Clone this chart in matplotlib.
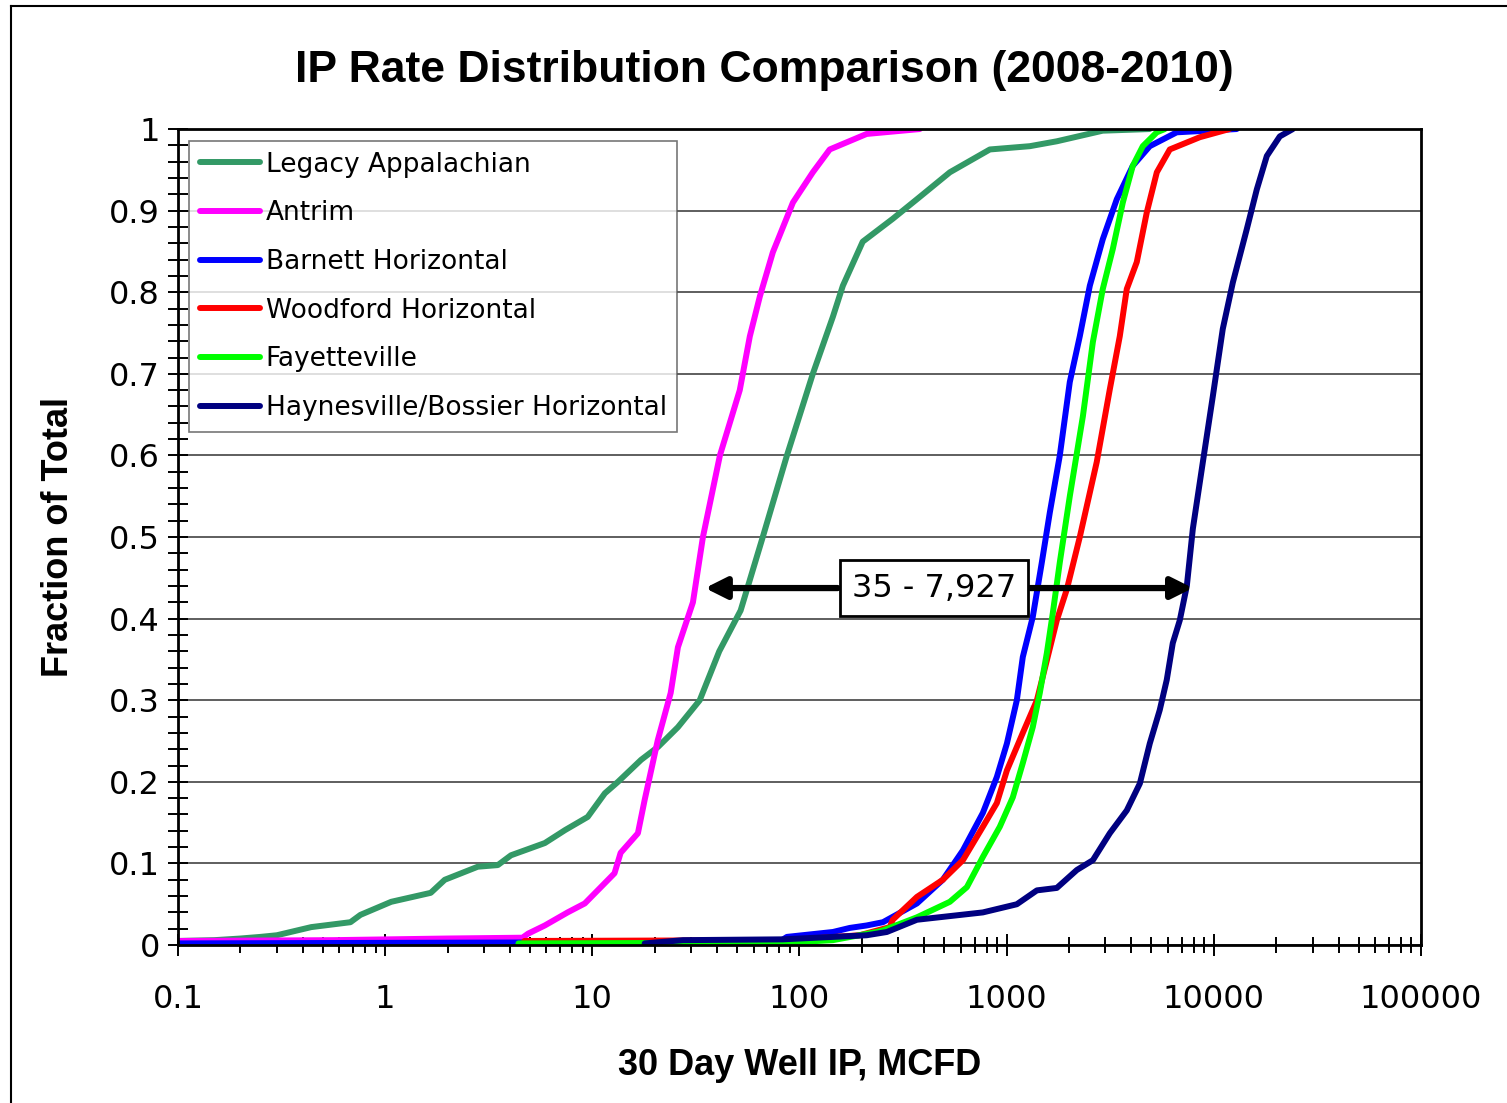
#!/usr/bin/env python
import matplotlib
matplotlib.use('Agg')
import matplotlib.pyplot as plt
from matplotlib.ticker import LogLocator, FixedLocator, MultipleLocator, FuncFormatter
from matplotlib.lines import Line2D

# cumulative distributions (30 day IP in MCFD, fraction of total)
legacy_x = [0.1, 0.15, 0.2, 0.25, 0.3, 0.44, 0.68, 0.76, 1.07, 1.66, 1.94, 2.8, 3.5, 4.05,
            5.9, 7.4, 9.5, 11.5, 13.3, 17.2, 20.8, 25.9, 33, 41, 52, 66.5, 87, 116, 145,
            162, 202, 282, 369, 532, 830, 1294, 1747, 2910, 4900]
legacy_y = [0.005, 0.006, 0.008, 0.01, 0.012, 0.022, 0.028, 0.037, 0.053, 0.064, 0.08, 0.096,
            0.098, 0.11, 0.125, 0.141, 0.157, 0.186, 0.2, 0.227, 0.243, 0.267, 0.3, 0.36,
            0.41, 0.5, 0.6, 0.7, 0.77, 0.808, 0.862, 0.89, 0.914, 0.947, 0.975, 0.979,
            0.985, 0.998, 1.0]

antrim_x = [0.1, 0.56, 1.99, 4.6, 4.9, 5.9, 7.6, 9.2, 11, 12.8, 13.7, 16.6, 17.9, 20.7, 23.9,
            25.9, 30.6, 34.2, 41.3, 51.5, 57.6, 64.4, 74.4, 93, 116, 140, 211, 381]
antrim_y = [0.005, 0.006, 0.008, 0.009, 0.014, 0.024, 0.04, 0.051, 0.071, 0.088, 0.113, 0.137,
            0.178, 0.251, 0.309, 0.365, 0.42, 0.5, 0.6, 0.68, 0.746, 0.795, 0.849, 0.91,
            0.947, 0.975, 0.994, 1.0]

barnett_x = [0.1, 80, 87, 145, 175, 211, 253, 369, 492, 615, 768, 897, 1003, 1120, 1197, 1337,
             1479, 1616, 1806, 2018, 2255, 2521, 2912, 3403, 4065, 4909, 6623, 12900]
barnett_y = [0.002, 0.004, 0.01, 0.016, 0.021, 0.024, 0.028, 0.051, 0.08, 0.116, 0.162, 0.206,
             0.247, 0.3, 0.353, 0.402, 0.469, 0.53, 0.6, 0.69, 0.746, 0.808, 0.865, 0.914,
             0.955, 0.979, 0.996, 1.0]

woodford_x = [4.7, 87, 195, 273, 282, 369, 492, 615, 768, 897, 1003, 1197, 1400, 1564, 1747,
              1953, 2255, 2723, 3148, 3517, 3802, 4249, 4750, 5309, 6133, 8560, 11900]
woodford_y = [0.005, 0.006, 0.012, 0.022, 0.031, 0.059, 0.08, 0.104, 0.145, 0.174, 0.214,
              0.26, 0.3, 0.349, 0.398, 0.436, 0.5, 0.592, 0.681, 0.746, 0.804, 0.837, 0.898,
              0.947, 0.975, 0.99, 1.0]

fayetteville_x = [4.4, 87, 145, 236, 253, 369, 532, 643, 768, 927, 1071, 1197, 1337, 1446,
                  1564, 1671, 1806, 2018, 2334, 2608, 2912, 3255, 3638, 4065, 4543, 5309, 5800]
fayetteville_y = [0.002, 0.003, 0.006, 0.016, 0.018, 0.034, 0.053, 0.071, 0.108, 0.145, 0.181,
                  0.223, 0.267, 0.309, 0.358, 0.407, 0.469, 0.55, 0.648, 0.739, 0.804, 0.853,
                  0.91, 0.955, 0.979, 0.996, 1.0]

haynesville_x = [17.9, 27.4, 83, 211, 264, 369, 768, 1120, 1400, 1747, 2183, 2608, 3148, 3802,
                 4397, 4909, 5484, 5929, 6339, 6853, 7410, 7922, 8857, 9900, 11050, 12360,
                 14420, 16130, 18030, 20830, 24070]
haynesville_y = [0.002, 0.006, 0.007, 0.012, 0.016, 0.031, 0.04, 0.05, 0.067, 0.07, 0.092,
                 0.104, 0.137, 0.165, 0.198, 0.247, 0.288, 0.325, 0.37, 0.398, 0.44, 0.51,
                 0.592, 0.673, 0.755, 0.812, 0.877, 0.926, 0.967, 0.991, 1.0]

names = ['Legacy Appalachian', 'Antrim', 'Barnett Horizontal', 'Woodford Horizontal',
         'Fayetteville', 'Haynesville/Bossier Horizontal']
colors = ['#339966', '#FF00FF', '#0000FF', '#FF0000', '#00FF00', '#000080']
series_x = [legacy_x, antrim_x, barnett_x, woodford_x, fayetteville_x, haynesville_x]
series_y = [legacy_y, antrim_y, barnett_y, woodford_y, fayetteville_y, haynesville_y]

range_lo = 35
range_hi = 7927
range_level = 0.4375

fig = plt.figure(figsize=(15.07, 11.03), dpi=100)
ax = fig.add_axes([0.1181, 0.1432, 0.8248, 0.7398])

for xs, ys, c, n in zip(series_x, series_y, colors, names):
    ax.plot(xs, ys, color=c, lw=4.3, label=n, solid_capstyle='round')

ax.set_xscale('log')
ax.set_xlim(0.1, 100000)
ax.set_ylim(0, 1)
ax.xaxis.set_major_locator(FixedLocator([0.1, 1, 10, 100, 1000, 10000, 100000]))
ax.xaxis.set_minor_locator(LogLocator(base=10, subs=range(2, 10), numticks=20))
ax.xaxis.set_major_formatter(FuncFormatter(lambda v, p: '%g' % v))
ax.yaxis.set_major_locator(MultipleLocator(0.1))
ax.yaxis.set_minor_locator(MultipleLocator(0.02))
ax.yaxis.set_major_formatter(FuncFormatter(lambda v, p: '%g' % round(v, 1)))

ax.grid(axis='y', which='major', color='#333333', lw=1.1)
ax.tick_params(axis='both', which='both', direction='inout', width=1.4, color='black')
ax.tick_params(axis='x', which='major', length=16, pad=20, labelsize=23)
ax.tick_params(axis='x', which='minor', length=11)
ax.tick_params(axis='y', which='both', length=14, pad=6, labelsize=23)
for s in ax.spines.values():
    s.set_linewidth(2)
    s.set_color('black')

ax.set_xlabel('30 Day Well IP, MCFD', fontsize=26, fontweight='bold',
              family='Liberation Sans', labelpad=24)
ax.set_ylabel('Fraction of Total', fontsize=26, fontweight='bold',
              family='Liberation Sans', labelpad=24)
fig.text(0.507, 0.936, 'IP Rate Distribution Comparison (2008-2010)', ha='center', va='center',
         fontsize=32, fontweight='bold', family='Liberation Sans')

leg_handles = [Line2D([0], [0], color=c, lw=4.3, solid_capstyle='round') for c in colors]
leg = ax.legend(leg_handles, names, loc='upper left', bbox_to_anchor=(0.0089, 0.9853),
                borderaxespad=0, fontsize=19, frameon=True, fancybox=False,
                handlelength=2.3, handletextpad=0.2, labelspacing=0.86, borderpad=0.4)
leg.get_frame().set_edgecolor('#555555')
leg.get_frame().set_linewidth(1.2)

# range annotation between the two arrows
box_left = 153
box_right = 1294
box_mid = 446
arrow_kw = dict(arrowstyle='-|>', color='black', lw=4.5, mutation_scale=32, shrinkA=0, shrinkB=0)
ax.annotate('', xy=(range_lo, range_level), xytext=(box_left, range_level), arrowprops=arrow_kw)
ax.annotate('', xy=(range_hi, range_level), xytext=(box_right, range_level), arrowprops=arrow_kw)
ax.text(box_mid, range_level, '{} - {:,}'.format(range_lo, range_hi), ha='center', va='center',
        fontsize=23, bbox=dict(boxstyle='square,pad=0.38', fc='white', ec='black', lw=2))

# outer border of the chart area
fig.add_artist(Line2D([11 / 1507, 11 / 1507], [0, 1 - 6 / 1103], color='black', lw=1.5,
                      transform=fig.transFigure))
fig.add_artist(Line2D([11 / 1507, 1], [1 - 6 / 1103, 1 - 6 / 1103], color='black', lw=1.5,
                      transform=fig.transFigure))

fig.savefig('out.png', dpi=100)
